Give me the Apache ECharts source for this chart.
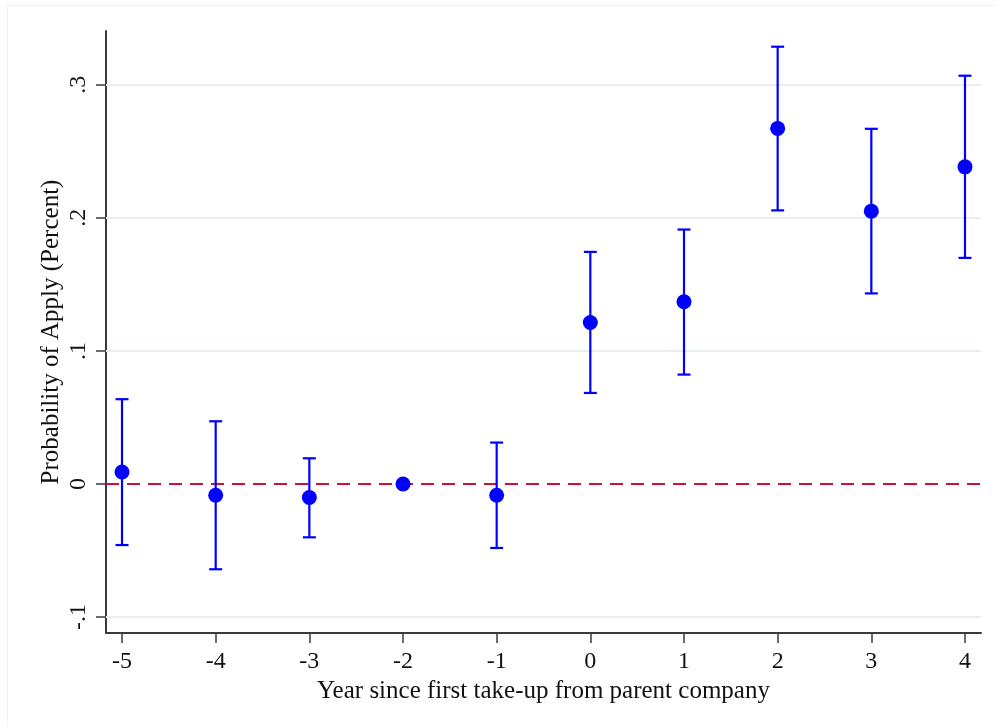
<!DOCTYPE html>
<html>
<head>
<meta charset="utf-8">
<title>Probability of Apply by year since first take-up</title>
<script src="https://cdn.jsdelivr.net/npm/echarts@6/dist/echarts.min.js"></script>
<style>
  html, body { margin: 0; padding: 0; background: #ffffff; }
  #chart { width: 997px; height: 727px; }
</style>
</head>
<body>
<div id="chart"></div>
<script>
// Event-study estimates: year relative to first take-up from parent company
const years = [-5, -4, -3, -2, -1, 0, 1, 2, 3, 4];
const estimates = [0.009, -0.0085, -0.0102, 0, -0.0085, 0.1213, 0.1369, 0.2672, 0.2050, 0.2383];
const ciLower = [-0.0459, -0.0641, -0.0401, null, -0.0481, 0.0684, 0.0822, 0.2056, 0.1432, 0.1699];
const ciUpper = [0.0637, 0.0471, 0.0193, null, 0.0311, 0.1744, 0.1912, 0.3286, 0.2669, 0.3068];

// Axis ticks and their printed labels
const yTicks = [-0.1, 0, 0.1, 0.2, 0.3];
const yTickLabels = ['-.1', '0', '.1', '.2', '.3'];
const xTicks = [-5, -4, -3, -2, -1, 0, 1, 2, 3, 4];

const FONT = '"Liberation Serif", "DejaVu Serif", serif';
const TEXT = '#111111';
const AXIS = '#3a3a3a';
const GRID = '#e8eff1';
const MARK = '#0000ff';
const REF = '#d0103a';

const pointData = years.map((y, i) => [y, estimates[i]]);
const barData = [];
years.forEach((y, i) => {
  if (ciLower[i] !== null && ciUpper[i] !== null) barData.push([y, ciLower[i], ciUpper[i]]);
});

const chart = echarts.init(document.getElementById('chart'), null, { renderer: 'canvas' });

chart.setOption({
  backgroundColor: '#ffffff',
  animation: false,
  graphic: [{
    type: 'rect',
    shape: { x: 7.5, y: 5.5, width: 1000, height: 740 },
    style: { fill: 'none', stroke: '#f2f2f2', lineWidth: 1 },
    silent: true,
    z: -10
  }],
  grid: { left: 106, right: 16, top: 31, bottom: 94, containLabel: false },
  xAxis: {
    type: 'value',
    min: -5.171,
    max: 4.171,
    name: 'Year since first take-up from parent company',
    nameLocation: 'middle',
    nameGap: 43,
    nameTextStyle: { fontFamily: FONT, fontSize: 25, color: TEXT },
    axisLine: { show: true, onZero: false, lineStyle: { color: AXIS, width: 2 } },
    axisTick: { show: true, length: 10, customValues: xTicks, lineStyle: { color: AXIS, width: 1.5 } },
    axisLabel: {
      customValues: xTicks,
      margin: 17,
      fontFamily: FONT, fontSize: 24, color: TEXT,
      formatter: v => String(v)
    },
    splitLine: { show: false }
  },
  yAxis: {
    type: 'value',
    min: -0.112,
    max: 0.3404,
    name: 'Probability of Apply (Percent)',
    nameLocation: 'middle',
    nameGap: 42,
    nameMoveOverlap: false,
    nameRotate: 90,
    nameTextStyle: { fontFamily: FONT, fontSize: 25, color: TEXT },
    axisLine: { show: true, onZero: false, lineStyle: { color: AXIS, width: 2 } },
    axisTick: { show: true, length: 10, customValues: yTicks, lineStyle: { color: AXIS, width: 1.5 } },
    axisLabel: {
      customValues: yTicks,
      rotate: 90,
      margin: 15,
      fontFamily: FONT, fontSize: 24, color: TEXT,
      formatter: v => {
        const k = yTicks.findIndex(t => Math.abs(t - v) < 1e-9);
        return k >= 0 ? yTickLabels[k] : '';
      }
    },
    splitLine: { show: false }
  },
  series: [
    {
      // horizontal grid lines at the labelled y ticks
      type: 'line',
      data: [],
      silent: true,
      markLine: {
        silent: true,
        z: 1,
        symbol: ['none', 'none'],
        label: { show: false },
        lineStyle: { color: GRID, width: 2, type: 'solid' },
        data: yTicks.filter(t => t !== 0).map(t => ({ yAxis: t }))
      }
    },
    {
      // zero reference line
      type: 'line',
      data: [],
      silent: true,
      markLine: {
        silent: true,
        z: 2,
        symbol: ['none', 'none'],
        label: { show: false },
        lineStyle: { color: REF, width: 2, type: [13, 8] },
        data: [{ yAxis: 0 }]
      }
    },
    {
      // 95% confidence intervals with caps
      type: 'custom',
      z: 10,
      data: barData,
      encode: { x: 0, y: [1, 2] },
      renderItem: function (params, api) {
        const x = api.value(0);
        const lo = api.coord([x, api.value(1)]);
        const hi = api.coord([x, api.value(2)]);
        const half = 6.5;
        const style = { stroke: MARK, lineWidth: 2.2, fill: 'none' };
        return {
          type: 'group',
          children: [
            { type: 'line', shape: { x1: lo[0], y1: lo[1], x2: hi[0], y2: hi[1] }, style: style },
            { type: 'line', shape: { x1: lo[0] - half, y1: lo[1], x2: lo[0] + half, y2: lo[1] }, style: style },
            { type: 'line', shape: { x1: hi[0] - half, y1: hi[1], x2: hi[0] + half, y2: hi[1] }, style: style }
          ]
        };
      }
    },
    {
      // point estimates
      type: 'scatter',
      z: 11,
      data: pointData,
      symbol: 'circle',
      symbolSize: 15,
      itemStyle: { color: MARK, opacity: 1 }
    }
  ]
});
</script>
</body>
</html>
